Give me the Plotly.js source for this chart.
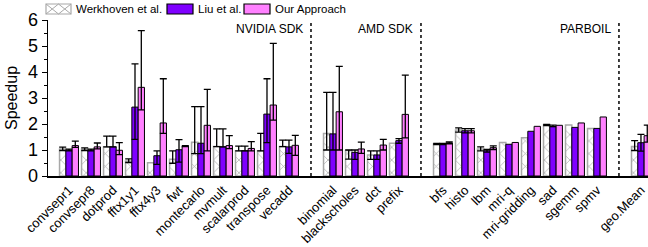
<!DOCTYPE html>
<html><head><meta charset="utf-8">
<script src="https://cdn.plot.ly/plotly-3.0.1.min.js"></script>
<style>html,body{margin:0;padding:0;background:#fff}</style>
</head><body>
<div id="chart" style="width:648px;height:247px"></div>
<script>
const categories = ['convsepr1','convsepr8','dotprod','fftx1y1','fftx4y3','fwt','montecarlo','mvmult','scalarprod','transpose','vecadd',
  'binomial','blackscholes','dct','prefix',
  'bfs','histo','lbm','mri-q','mri-gridding','sad','sgemm','spmv',
  'geo.Mean'];
const groupNames = ['NVIDIA SDK','AMD SDK','PARBOIL'];
const groupEnds = [11, 15, 23]; // index of the first category after each group

const seriesNames = ['Werkhoven et al.','Liu et al.','Our Approach'];

const werkhoven   = [1.04,1.03,1.12,0.58,0.51,0.64,1.30,1.13,0.97,0.97,1.13, 1.63,0.98,0.81,1.26, 1.23,1.77,1.04,1.29,1.47,1.96,1.96,1.83, 1.13];
const werkhovenHi = [1.11,1.08,1.53,0.66,null,0.97,2.67,1.81,1.15,1.64,1.38, 3.22,1.00,0.97,null, 1.25,1.85,1.12,null,null,1.98,null,null, 1.36];
const werkhovenLo = [0.98,0.98,1.12,0.52,null,0.49,0.86,1.13,0.97,0.97,1.13, 1.00,0.65,0.64,null, 1.21,1.69,0.97,null,null,1.94,null,null, 0.98];

const liu   = [1.00,1.00,1.12,2.65,0.78,1.01,1.26,1.12,0.97,2.38,1.12, 1.62,0.91,0.81,1.36, 1.23,1.74,0.97,1.22,1.72,1.90,1.87,1.83, 1.28];
const liuHi = [1.03,1.03,1.53,4.31,0.97,1.40,2.67,1.81,1.15,3.74,1.38, 3.22,1.00,0.97,1.44, 1.25,1.82,1.02,null,null,1.96,null,null, 1.60];
const liuLo = [0.97,0.97,1.12,1.41,0.45,0.53,0.86,1.12,0.97,1.28,0.87, 1.00,0.64,0.64,1.26, 1.21,1.66,0.92,null,null,1.90,null,null, 0.96];

const ours   = [1.17,1.12,0.99,3.41,2.04,1.15,1.95,1.17,1.06,2.73,1.18, 2.47,1.04,1.19,2.37, 1.28,1.74,1.09,1.29,1.91,1.95,2.04,2.27, 1.55];
const oursHi = [1.34,1.27,1.28,5.59,3.74,1.17,3.33,1.55,1.32,5.10,1.56, 4.22,1.30,1.41,3.88, 1.31,1.82,1.16,null,null,null,null,null, 1.96];
const oursLo = [1.10,1.04,0.82,2.54,1.64,1.13,0.97,1.05,0.97,2.15,0.79, 1.00,0.87,1.00,1.47, 1.24,1.66,1.02,null,null,null,null,null, 1.30];

const xPos = categories.map((c, i) => i + groupEnds.filter(b => i >= b).length);
const sepPos = groupEnds.map((b, k) => b + k);

function errs(vals, hi, lo) {
  return {
    type: 'data', symmetric: false,
    array: vals.map((v, i) => hi[i] == null ? NaN : hi[i] - v),
    arrayminus: vals.map((v, i) => lo[i] == null ? NaN : v - lo[i]),
    color: '#000', thickness: 1.3, width: 3.5
  };
}

const traces = [
  {type:'bar', name: seriesNames[0], x: xPos, y: werkhoven, showlegend:false,
   marker:{color:'#ffffff', line:{color:'#a8a8a8', width:1.5},
           pattern:{shape:'x', fgcolor:'#a8a8a8', bgcolor:'#ffffff', size:9, solidity:0.15}},
   error_y: errs(werkhoven, werkhovenHi, werkhovenLo)},
  {type:'bar', name: seriesNames[1], x: xPos, y: liu, showlegend:false,
   marker:{color:'#7f00ff', line:{color:'#000', width:1}},
   error_y: errs(liu, liuHi, liuLo)},
  {type:'bar', name: seriesNames[2], x: xPos, y: ours, showlegend:false,
   marker:{color:'#ff80ff', line:{color:'#000', width:1}},
   error_y: errs(ours, oursHi, oursLo)}
];

// pixel -> paper helpers for the hand-drawn legend
const L = 48, W = 600, T = 20, H = 156;
const px = p => (p - L) / W;
const py = p => (T + H - p) / H;

const shapes = sepPos.map(s => ({type:'line', xref:'x', yref:'y', x0:s, x1:s, y0:0, y1:6.1,
  line:{color:'#000', width:1.5, dash:'dot'}}));

const legendBoxes = [[46,71],[167,193],[244,270]];
const legendFills = ['#ffffff','#7f00ff','#ff80ff'];
const legendLines = ['#a8a8a8','#000','#000'];
legendBoxes.forEach((b, k) => {
  shapes.push({type:'rect', xref:'paper', yref:'paper', x0:px(b[0]), x1:px(b[1]), y0:py(14), y1:py(4),
    fillcolor: legendFills[k], line:{color: legendLines[k], width:1.2}});
});
// hatch crosses in the first legend box
const hb = legendBoxes[0], hm = (hb[0] + hb[1]) / 2;
[[hb[0],hm],[hm,hb[1]]].forEach(seg => {
  shapes.push({type:'line', xref:'paper', yref:'paper', x0:px(seg[0]), x1:px(seg[1]), y0:py(14), y1:py(4), line:{color:'#a8a8a8', width:1}});
  shapes.push({type:'line', xref:'paper', yref:'paper', x0:px(seg[0]), x1:px(seg[1]), y0:py(4), y1:py(14), line:{color:'#a8a8a8', width:1}});
});

const annotations = seriesNames.map((n, k) => ({xref:'paper', yref:'paper', x:px(legendBoxes[k][1] + 3), y:py(9),
  xanchor:'left', yanchor:'middle', text:n, showarrow:false, font:{size:11.5, color:'#000'}}));
groupNames.forEach((g, k) => annotations.push({xref:'x', yref:'y', x: sepPos[k] - 0.27, y: 5.65,
  xanchor:'right', yanchor:'middle', text:g, showarrow:false, font:{size:12, color:'#000'}}));

const layout = {
  width:648, height:247,
  margin:{l:48, r:0, t:20, b:71},
  paper_bgcolor:'#fff', plot_bgcolor:'#fff',
  font:{family:'Arial, "Liberation Sans", sans-serif', color:'#000'},
  barmode:'group', bargap:0.14, bargroupgap:0,
  xaxis:{range:[-0.955, 26.32], tickmode:'array', tickvals:xPos, ticktext:categories,
    tickangle:-45, tickfont:{size:13}, showline:true, linecolor:'#000', linewidth:1.5,
    ticks:'', showgrid:false, zeroline:false, fixedrange:true},
  yaxis:{range:[0,6], dtick:1, tickfont:{size:18}, ticks:'outside', ticklen:5, tickwidth:1,
    tickcolor:'#000', showline:true, linecolor:'#000', linewidth:1.3, showgrid:false, zeroline:false,
    minor:{dtick:0.5, ticks:'outside', ticklen:3, tickcolor:'#000', showgrid:false},
    title:{text:'Speedup', font:{size:16}, standoff:6}},
  shapes: shapes,
  annotations: annotations
};

Plotly.newPlot('chart', traces, layout, {displayModeBar:false, staticPlot:true});
</script>
</body></html>
